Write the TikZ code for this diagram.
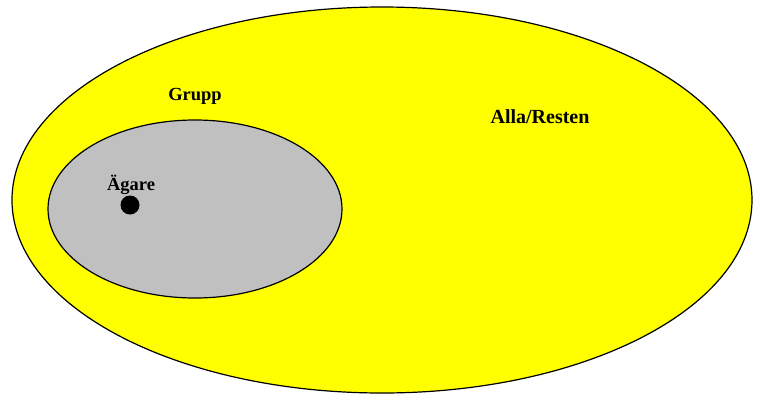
\documentclass[tikz,border=0pt]{standalone}
\usepackage{fontspec}
\setmainfont{Liberation Serif}
\definecolor{venyellow}{RGB}{255,255,0}
\definecolor{vengray}{RGB}{192,192,192}
\begin{document}
\begin{tikzpicture}[x=1pt,y=-1pt,
  setshape/.style={draw=black,line width=1.2pt},
  lbl/.style={font=\fontsize{18.5}{20}\selectfont\bfseries,inner sep=0pt}]
\useasboundingbox[fill=white] (0,0) rectangle (758,397);
\path[setshape,fill=venyellow] (382,200) ellipse [x radius=370, y radius=193];
\path[setshape,fill=vengray] (195,209) ellipse [x radius=147, y radius=89];
\node[circle,fill=black,minimum size=19pt,inner sep=0pt] (dot) at (130,205) {};
\node[lbl] (agare) at (131,185) {Ägare};
\node[lbl] (grupp) at (195,96) {Grupp};
\node[lbl,font=\fontsize{20}{22}\selectfont\bfseries] (alla) at (540,117) {Alla/Resten};
\end{tikzpicture}
\end{document}
